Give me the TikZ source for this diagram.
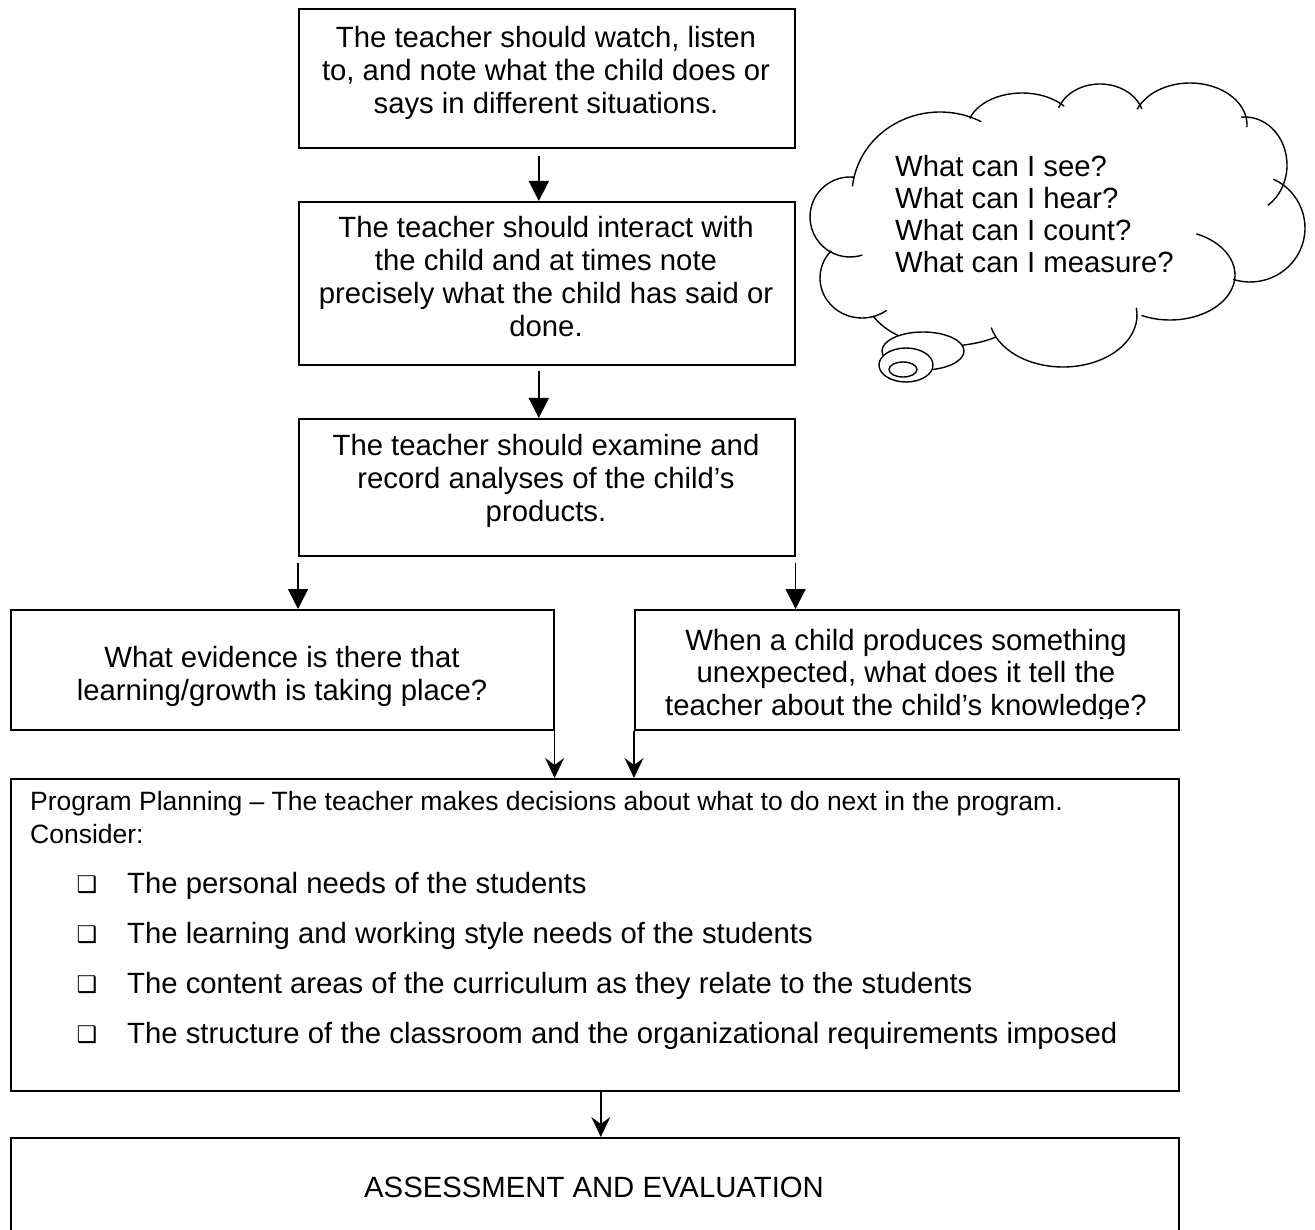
\documentclass[tikz,border=0pt]{standalone}
\usepackage{fontspec}
\setmainfont{Liberation Sans}
\newfontfamily\djv{DejaVu Sans}
\usetikzlibrary{arrows.meta,shapes.geometric}
\newcommand\cloudpuff[6]{\draw[cloudln] (#1,#2) ++(#5:#3pt and #4pt) arc[start angle=#5,end angle=#6,x radius=#3pt,y radius=#4pt];}
\begin{document}
\begin{tikzpicture}[x=1pt,y=-1pt,
  boxnode/.style={draw,line width=1.6pt,rectangle,inner sep=0pt,anchor=north west},
  txt/.style={inner sep=0pt,align=center,anchor=north,font=\fontsize{29.3}{33}\selectfont},
  ctxt/.style={inner sep=0pt,align=left,anchor=north west,font=\fontsize{29.3}{32}\selectfont},
  ptxt/.style={inner sep=0pt,anchor=base west,font=\fontsize{26.5}{31}\selectfont},
  btxt/.style={inner sep=0pt,anchor=base west,font=\fontsize{29.3}{33}\selectfont},
  bul/.style={inner sep=0pt,anchor=center,font=\djv\fontsize{23}{23}\selectfont},
  tri/.style={line width=1.6pt,-{Triangle[width=20pt,length=20pt]}},
  stl/.style={line width=1.6pt,-{Stealth[width=19pt,length=20pt,inset=7pt]}},
  cloudln/.style={line width=1.4pt},
  bubble/.style={draw,line width=1.4pt,fill=white}
]
\useasboundingbox (0,0) rectangle (1315,1230);
\fill[white] (0,0) rectangle (1315,1230);

% boxes
\node[boxnode,minimum width=496pt,minimum height=139pt] (b1) at (298,8) {};
\node[boxnode,minimum width=496pt,minimum height=163pt] (b2) at (298,201) {};
\node[boxnode,minimum width=496pt,minimum height=137pt] (b3) at (298,418) {};
\node[boxnode,minimum width=543pt,minimum height=120pt] (lb) at (10,609) {};
\node[boxnode,minimum width=544pt,minimum height=120pt] (rb) at (634,609) {};
\node[boxnode,minimum width=1168pt,minimum height=312pt] (pp) at (10,778) {};
\node[boxnode,minimum width=1168pt,minimum height=200pt] (fb) at (10,1137) {};

% texts
\node[txt] (t1) at (546,26) {The teacher should watch, listen\\to, and note what the child does or\\says in different situations.};
\node[txt] (t2) at (546,216) {The teacher should interact with\\the child and at times note\\precisely what the child has said or\\done.};
\node[txt] (t3) at (546,434) {The teacher should examine and\\record analyses of the child’s\\products.};
\node[txt] (tl) at (282,646) {What evidence is there that\\learning/growth is taking place?};
\begin{scope}
\clip (634,609) rectangle (1178,718);
\node[txt,font=\fontsize{29.3}{32.5}\selectfont] (tr) at (906,629) {When a child produces something\\unexpected, what does it tell the\\teacher about the child’s knowledge?};
\end{scope}
\node[ptxt] (pp1) at (30,810) {Program Planning – The teacher makes decisions about what to do next in the program.};
\node[ptxt] (pp2) at (30,843) {Consider:};
\node[bul] (q1) at (87,885) {❑};
\node[btxt] (i1) at (127,893) {The personal needs of the students};
\node[bul] (q2) at (87,935) {❑};
\node[btxt] (i2) at (127,943) {The learning and working style needs of the students};
\node[bul] (q3) at (87,985) {❑};
\node[btxt] (i3) at (127,993) {The content areas of the curriculum as they relate to the students};
\node[bul] (q4) at (87,1035) {❑};
\node[btxt] (i4) at (127,1043) {The structure of the classroom and the organizational requirements imposed};
\node[inner sep=0pt,anchor=base,font=\fontsize{29.3}{33}\selectfont] (tf) at (594,1197) {ASSESSMENT AND EVALUATION};

% arrows
\draw[tri] ([xshift=-8pt,yshift=-7pt]b1.south) -- ([xshift=-8pt]b2.north);
\draw[tri] ([xshift=-8pt,yshift=-5pt]b2.south) -- ([xshift=-8pt]b3.north);
\draw[tri] ([yshift=-6pt]b3.south west) -- (b3.south west |- lb.north);
\draw[tri] ([yshift=-6pt]b3.south east) -- (b3.south east |- rb.north);
\draw[stl] (lb.south east) -- (lb.south east |- pp.north);
\draw[stl] (rb.south west) -- (rb.south west |- pp.north);
\draw[stl] ([xshift=6pt]pp.south) -- ([xshift=6pt]fb.north);

% cloud
\cloudpuff{940}{195}{88}{83}{174}{62}
\cloudpuff{1022}{130}{55}{37}{162}{40}
\cloudpuff{1100}{120}{44}{36}{160}{18}
\cloudpuff{1190}{125}{57}{42}{158}{-3}
\cloudpuff{1245}{165}{42}{48}{95}{-57}
\cloudpuff{1250}{228}{55}{54}{65}{-108}
\cloudpuff{1170}{275}{65}{45}{66}{-116}
\cloudpuff{1063}{315}{74}{52}{8}{-166}
\draw[cloudln] (996,337) .. controls (960,352) and (900,350) .. (873,316);
\cloudpuff{862}{278}{42}{40}{137}{306}
\cloudpuff{850}{217}{40}{40}{84}{288}
\node[bubble,ellipse,minimum width=82pt,minimum height=38pt,inner sep=0pt] (bb1) at (923,351) {};
\node[bubble,ellipse,minimum width=54pt,minimum height=34pt,inner sep=0pt] (bb2) at (906,365) {};
\node[bubble,ellipse,minimum width=28pt,minimum height=15pt,inner sep=0pt] (bb3) at (903,369.5) {};
\node[ctxt] (ct) at (895,155) {What can I see?\\What can I hear?\\What can I count?\\What can I measure?};
\end{tikzpicture}
\end{document}
